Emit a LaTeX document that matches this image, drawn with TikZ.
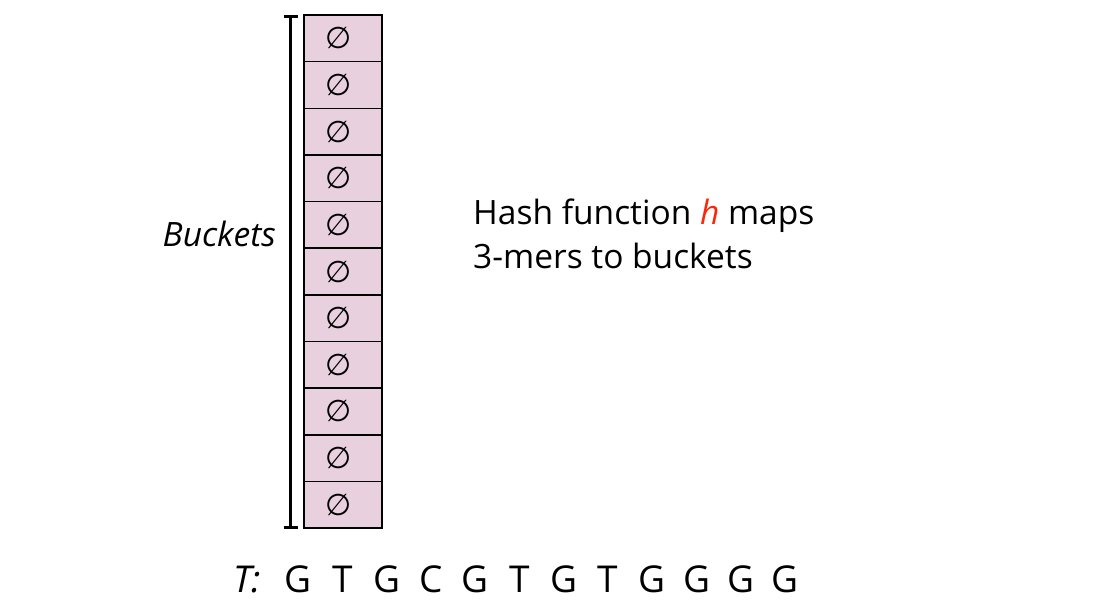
\documentclass[tikz,border=0pt]{standalone}
\usepackage{fontspec}
\setmainfont{Open Sans}
\newfontfamily\symfont{DejaVu Sans}
\definecolor{cellpink}{RGB}{232,208,222}
\definecolor{hred}{RGB}{250,40,10}
\begin{document}
\begin{tikzpicture}[x=1pt,y=-1pt,
  cell/.style={draw=black,line width=1.5pt,fill=cellpink,minimum width=78pt,minimum height=46.64pt,inner sep=0pt},
  emp/.style={inner sep=0pt,font=\symfont\fontsize{30}{32}\selectfont},
  bigtext/.style={inner sep=0pt,font=\fontsize{33.5}{38}\selectfont},
  seq/.style={inner sep=0pt,font=\fontsize{37}{42}\selectfont},
  brack/.style={line width=3.5pt}]
\useasboundingbox (0,0) rectangle (1101,607);
\foreach \i in {0,...,10}{
  \node[cell] (c\i) at (343,{15+46.64*\i+23.32}) {};
  \node[emp] (e\i) at ([xshift=-4pt,yshift=0pt]c\i.center) {∅};
}
\coordinate (bt) at (290.5,16.5);
\coordinate (bb) at (290.5,527.5);
\coordinate (btl) at (283.5,16.5);
\coordinate (btr) at (297.5,16.5);
\coordinate (bbl) at (283.5,527.5);
\coordinate (bbr) at (297.5,527.5);
\draw[brack] (bt) -- (bb);
\draw[brack] (btl) -- (btr);
\draw[brack] (bbl) -- (bbr);
\node[bigtext,anchor=base east] (buckets) at (276,246) {\itshape Buckets};
\node[bigtext,anchor=base west] (hash1) at (473,224) {Hash function \textcolor{hred}{\itshape h} maps};
\node[bigtext,anchor=base west] (hash2) at (473,268) {3-mers to buckets};
\node[seq,anchor=base west] (tlab) at (233,592) {\itshape T:};
\foreach \ch [count=\k from 0] in {G,T,G,C,G,T,G,T,G,G,G,G}{
  \node[seq,anchor=base] (s\k) at ({298+44.3*\k},592) {\ch};
}
\end{tikzpicture}
\end{document}
